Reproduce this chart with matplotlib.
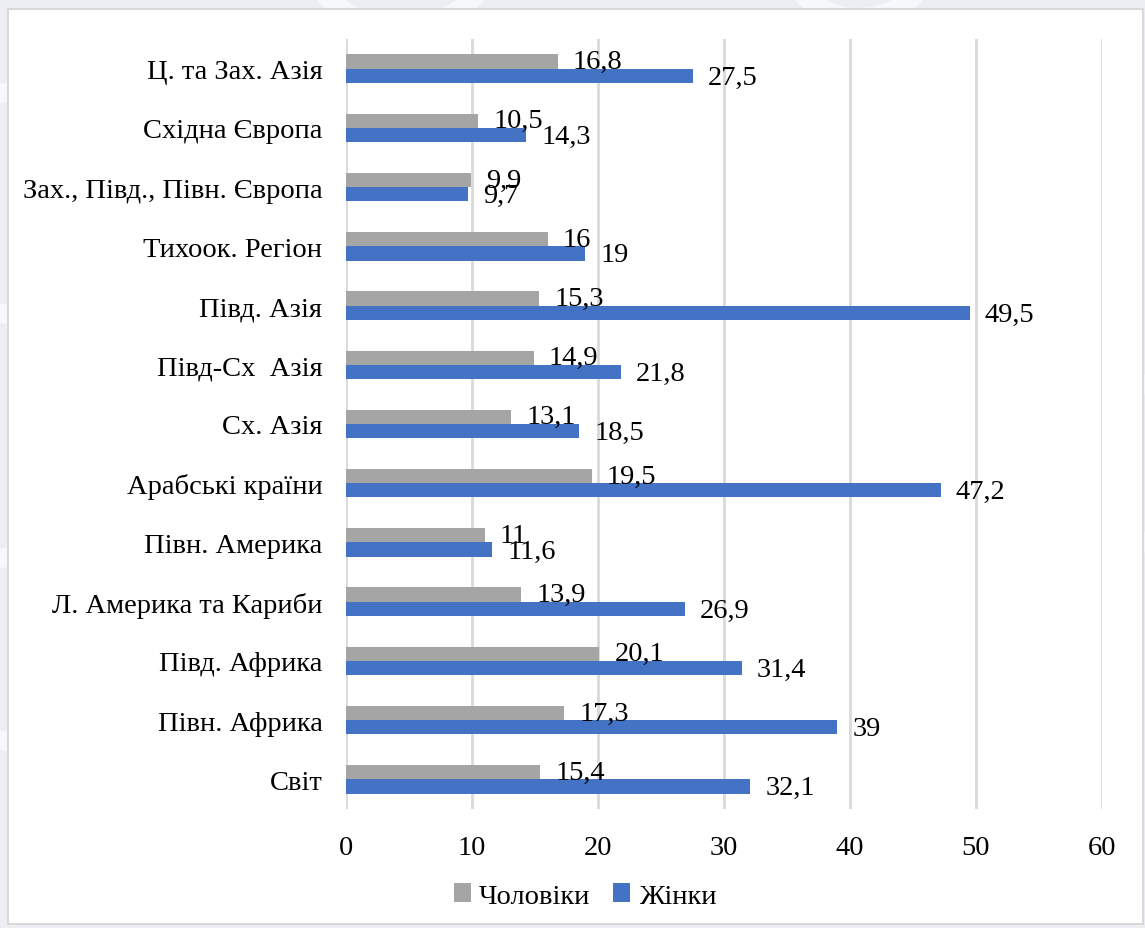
"""Horizontal grouped bar chart: men vs women by region."""

import matplotlib.pyplot as plt
import numpy as np
from matplotlib.patches import Rectangle, Circle

regions = [
    "Світ", "Півн. Африка", "Півд. Африка", "Л. Америка та Кариби",
    "Півн. Америка", "Арабські країни", "Сх. Азія", "Півд-Сх  Азія",
    "Півд. Азія", "Тихоок. Регіон", "Зах., Півд., Півн. Європа",
    "Східна Європа", "Ц. та Зах. Азія",
]
men = [15.4, 17.3, 20.1, 13.9, 11, 19.5, 13.1, 14.9, 15.3, 16, 9.9, 10.5, 16.8]
women = [32.1, 39, 31.4, 26.9, 11.6, 47.2, 18.5, 21.8, 49.5, 19, 9.7, 14.3, 27.5]
x_ticks = [0, 10, 20, 30, 40, 50, 60]

GRAY = "#A5A5A5"
BLUE = "#4472C4"
FS = 20.5


def fmt(v):
    s = f"{v:g}"
    return s.replace(".", ",")


plt.rcParams["font.family"] = ["Liberation Serif", "DejaVu Serif"]

fig = plt.figure(figsize=(11.45, 9.29), dpi=100, facecolor="#eceef4")

# faint background shapes outside the chart panel
for (cx, cy, r) in [(0.02, 0.78, 0.12), (0.02, 0.3, 0.1), (0.35, 1.05, 0.08),
                    (0.75, 1.04, 0.06), (0.97, 0.5, 0.09)]:
    fig.patches.append(Circle((cx, cy), r, transform=fig.transFigure,
                              facecolor="none", edgecolor="#f7f8fb",
                              linewidth=14, zorder=0))

# white chart panel with thin border
fig.patches.append(Rectangle((8 / 1145, 4 / 929), 1135 / 1145, 915 / 929,
                             transform=fig.transFigure, facecolor="white",
                             edgecolor="#d9d9d9", linewidth=1.5, zorder=1))

ax = fig.add_axes([346 / 1145, 1 - 810 / 929, 756 / 1145, 770 / 929])
ax.set_facecolor("none")
ax.set_zorder(2)

y = np.arange(len(regions))
h = 0.24
bm = ax.barh(y + h / 2, men, height=h, color=GRAY, label="Чоловіки", zorder=3)
bw = ax.barh(y - h / 2, women, height=h, color=BLUE, label="Жінки", zorder=3)

for yi, v in zip(y, men):
    ax.annotate(fmt(v), (v, yi + h / 2), xytext=(11, 0), textcoords="offset points",
                ha="left", va="center", fontsize=FS, zorder=4)
for yi, v in zip(y, women):
    ax.annotate(fmt(v), (v, yi - h / 2), xytext=(11, -1), textcoords="offset points",
                ha="left", va="center", fontsize=FS, zorder=4)

ax.set_xlim(0, 60)
ax.set_ylim(-0.5, len(regions) - 0.5)
ax.set_xticks(x_ticks)
ax.set_xticklabels([str(t) for t in x_ticks], fontsize=FS)
ax.set_yticks(y)
ax.set_yticklabels(regions, fontsize=FS)
ax.tick_params(axis="both", length=0)
ax.tick_params(axis="x", pad=19)
ax.tick_params(axis="y", pad=17)
ax.grid(axis="x", color="#d9d9d9", linewidth=2, zorder=0)
ax.set_axisbelow(True)
for s in ax.spines.values():
    s.set_visible(False)

fig.legend(handles=[bm, bw], loc="center", bbox_to_anchor=(585 / 1145, 1 - 897 / 929),
           ncol=2, frameon=False, fontsize=FS, handlelength=0.6, handleheight=0.6,
           handletextpad=0.3, columnspacing=0.8)

fig.savefig("out.png", dpi=100, facecolor=fig.get_facecolor())
